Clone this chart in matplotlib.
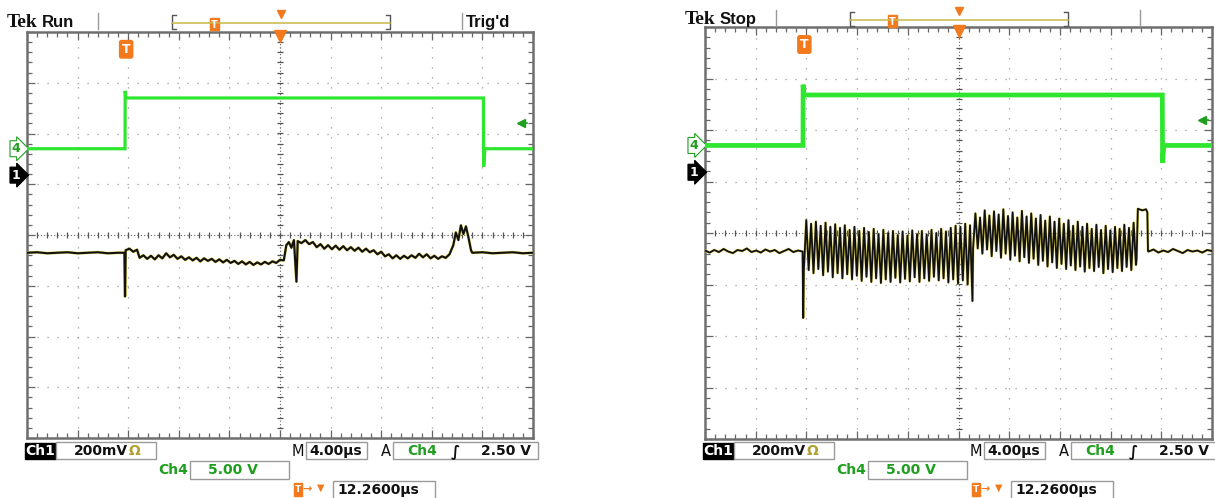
import numpy as np
import matplotlib
matplotlib.use("Agg")
import matplotlib.pyplot as plt
from matplotlib.patches import Rectangle
from matplotlib.transforms import blended_transform_factory

# scope settings shared by both captures
time_per_div = 4.0          # µs/div, 10 divisions
ch4_volts_per_div = 5.0
ch4_offset_div = 1.70       # Ch4 ground marker
ch1_offset_div = 1.18       # Ch1 ground marker
trig_level = 2.50           # V on Ch4
trig_time = 7.74            # µs from left edge of screen
readout_ch1 = "200mV"
readout_time = "4.00µs"
readout_ch4 = "5.00 V"
readout_trig = "2.50 V"
readout_delay = "12.2600µs"

# Ch4 gate pulse, (µs, V)
ch4_run_t = [0.0, 7.75, 7.76, 7.82, 36.08, 36.10, 36.20, 40.0]
ch4_run_v = [0.0, 0.0, 5.7, 5.0, 5.0, -1.8, 0.0, 0.0]
ch4_stop_t = [0.0, 7.73, 7.74, 7.80, 36.08, 36.10, 36.20, 40.0]
ch4_stop_v = [0.0, 0.0, 5.9, 4.9, 4.9, -1.7, 0.0, 0.0]

# Ch1 "Run" capture, (µs, screen divisions)
ch1_run = [
    (0.0, -0.35), (0.8, -0.34), (1.6, -0.36), (2.4, -0.35), (3.2, -0.34), (4.0, -0.36),
    (4.8, -0.35), (5.6, -0.34), (6.4, -0.36), (7.2, -0.35), (7.70, -0.35), (7.75, -1.21),
    (7.80, -0.30), (8.1, -0.27), (8.4, -0.33), (8.7, -0.29), (8.9, -0.45), (9.2, -0.40),
    (9.5, -0.47), (9.8, -0.41), (10.1, -0.48), (10.4, -0.40), (10.7, -0.46), (11.0, -0.36),
    (11.3, -0.44), (11.6, -0.39), (11.9, -0.47), (12.2, -0.42), (12.5, -0.49), (12.8, -0.44),
    (13.1, -0.50), (13.4, -0.45), (13.7, -0.52), (14.0, -0.46), (14.3, -0.51), (14.6, -0.47),
    (14.9, -0.53), (15.2, -0.48), (15.5, -0.54), (15.8, -0.49), (16.1, -0.55), (16.4, -0.51),
    (16.7, -0.57), (17.0, -0.52), (17.3, -0.58), (17.6, -0.53), (17.9, -0.59), (18.2, -0.54),
    (18.5, -0.58), (18.8, -0.53), (19.1, -0.57), (19.4, -0.52), (19.7, -0.55), (20.0, -0.49),
    (20.3, -0.50), (20.5, -0.20), (20.7, -0.14), (20.9, -0.25), (21.1, -0.10), (21.3, -0.92),
    (21.4, -0.12), (21.7, -0.16), (22.0, -0.10), (22.3, -0.18), (22.6, -0.14), (22.9, -0.24),
    (23.2, -0.18), (23.5, -0.27), (23.8, -0.20), (24.1, -0.28), (24.4, -0.21), (24.7, -0.29),
    (25.0, -0.22), (25.3, -0.30), (25.6, -0.24), (25.9, -0.31), (26.2, -0.25), (26.5, -0.33),
    (26.8, -0.27), (27.1, -0.34), (27.4, -0.30), (27.7, -0.38), (28.0, -0.33), (28.3, -0.42),
    (28.6, -0.38), (28.9, -0.46), (29.2, -0.40), (29.5, -0.47), (29.8, -0.41), (30.1, -0.46),
    (30.4, -0.40), (30.7, -0.45), (31.0, -0.37), (31.3, -0.44), (31.6, -0.38), (31.9, -0.46),
    (32.2, -0.41), (32.5, -0.47), (32.8, -0.42), (33.1, -0.45), (33.4, -0.38), (33.7, -0.20),
    (33.9, 0.05), (34.1, -0.10), (34.3, 0.19), (34.5, 0.02), (34.7, 0.17), (34.9, -0.05),
    (35.1, -0.30), (35.2, -0.35), (36.0, -0.34), (36.8, -0.36), (37.6, -0.35), (38.4, -0.34),
    (39.2, -0.36), (40.0, -0.35),
]

# Ch1 "Stop" capture: noisy baseline, two bursts of ringing, end plateau
ch1_stop_pre = [-0.34, -0.38, -0.33, -0.37, -0.31, -0.36, -0.39, -0.33, -0.35, -0.30, -0.37,
                -0.34, -0.38, -0.32, -0.36, -0.33, -0.39, -0.35, -0.31, -0.37, -0.34, -0.36]
ch1_stop_spike = -1.65
burst1_peaks = [0.25, 0.18, 0.22, 0.14, 0.20, 0.12, 0.17, 0.10, 0.15, 0.06, 0.12, 0.04, 0.10,
                0.02, 0.08, -0.02, 0.06, 0.00, 0.04, -0.04, 0.03, -0.05, 0.05, -0.02, 0.04,
                -0.03, 0.06, 0.00, 0.08, 0.03, 0.10, 0.14, 0.12, 0.18, 0.15]
burst1_troughs = [-0.72, -0.78, -0.70, -0.82, -0.75, -0.86, -0.78, -0.88, -0.80, -0.90, -0.83,
                  -0.93, -0.85, -0.95, -0.88, -0.97, -0.90, -0.95, -0.87, -0.96, -0.89, -0.94,
                  -0.86, -0.95, -0.88, -0.93, -0.85, -0.92, -0.88, -0.96, -0.90, -0.98, -0.92,
                  -1.00, -1.32]
burst2_peaks = [0.38, 0.30, 0.44, 0.34, 0.42, 0.36, 0.46, 0.33, 0.40, 0.30, 0.43, 0.32, 0.38,
                0.28, 0.35, 0.24, 0.32, 0.22, 0.28, 0.18, 0.25, 0.14, 0.22, 0.12, 0.18, 0.08,
                0.16, 0.06, 0.14, 0.05, 0.12, 0.08, 0.16, 0.10, 0.20]
burst2_troughs = [-0.30, -0.40, -0.32, -0.45, -0.35, -0.48, -0.40, -0.52, -0.44, -0.55, -0.47,
                  -0.58, -0.50, -0.62, -0.54, -0.65, -0.57, -0.68, -0.60, -0.70, -0.63, -0.72,
                  -0.65, -0.75, -0.68, -0.74, -0.66, -0.78, -0.70, -0.76, -0.68, -0.74, -0.66,
                  -0.72, -0.62]
burst1_span = (7.80, 21.10)
burst2_span = (21.15, 34.00)
ch1_stop_plateau = [(34.05, -0.50), (34.15, 0.47), (34.5, 0.44), (34.8, 0.46), (34.9, 0.40),
                    (34.95, -0.35)]
ch1_stop_post = [-0.36, -0.32, -0.38, -0.34, -0.37, -0.31, -0.35, -0.39, -0.33, -0.36, -0.34,
                 -0.38, -0.33, -0.35]

GREEN = "#2fe62f"
GREEN_TXT = "#1f9e1f"
ORANGE = "#f27a1c"
YELLOW = "#ded25a"
GRID = "#9a9a9a"


def burst(span, peaks, troughs):
    t0, t1 = span
    period = (t1 - t0) / len(peaks)
    tt, vv = [t0], [troughs[0]]
    for i, (pk, tr) in enumerate(zip(peaks, troughs)):
        tt += [t0 + (i + 0.5) * period, t0 + (i + 1) * period]
        vv += [pk, tr]
    return tt, vv


def stop_trace():
    t_pre = list(np.linspace(0.0, 7.70, len(ch1_stop_pre)))
    t = t_pre + [7.75]
    v = list(ch1_stop_pre) + [ch1_stop_spike]
    for span, pk, tr in [(burst1_span, burst1_peaks, burst1_troughs),
                         (burst2_span, burst2_peaks, burst2_troughs)]:
        bt, bv = burst(span, pk, tr)
        t += bt
        v += bv
    t += [p[0] for p in ch1_stop_plateau]
    v += [p[1] for p in ch1_stop_plateau]
    t += list(np.linspace(35.0, 40.0, len(ch1_stop_post)))
    v += list(ch1_stop_post)
    return np.array(t), np.array(v)


def draw_screen(ax, ch1_t, ch1_v, ch4_t, ch4_v, ch1_lw, ch4_lw, arrow_t):
    ax.set_xlim(0, 10 * time_per_div)
    ax.set_ylim(-4, 4)
    for xv in np.arange(4, 40, 4):
        ax.axvline(xv, color=GRID, lw=0.9, ls=(0, (1, 7)), zorder=1)
    for yv in range(-3, 4):
        ax.axhline(yv, color=GRID, lw=0.9, ls=(0, (1, 7)), zorder=1)
    ax.axvline(20, color="#666666", lw=0.8, ls=(0, (1, 2)), zorder=1)
    ax.axhline(0, color="#666666", lw=0.8, ls=(0, (1, 2)), zorder=1)
    ty = np.arange(-4, 4.01, 0.2)
    ax.plot(np.full(ty.size, 20.0), ty, ls="none", marker="_", ms=5, mew=0.9,
            color="#555555", zorder=1)
    tx = np.arange(0, 40.01, 0.8)
    ax.plot(tx, np.zeros(tx.size), ls="none", marker="|", ms=5, mew=0.9,
            color="#555555", zorder=1)

    ax.set_xticks(np.arange(0, 40.1, 4))
    ax.set_xticks(np.arange(0, 40.1, 0.8), minor=True)
    ax.set_yticks(np.arange(-4, 4.1, 1))
    ax.set_yticks(np.arange(-4, 4.01, 0.2), minor=True)
    ax.tick_params(which="both", direction="in", top=True, right=True,
                   labelbottom=False, labelleft=False, color="#666666", width=0.9)
    ax.tick_params(which="major", length=6)
    ax.tick_params(which="minor", length=3.5)
    for s in ax.spines.values():
        s.set_color("#6e6e6e")
        s.set_linewidth(1.8)

    # traces
    ch4_div = ch4_offset_div + np.array(ch4_v) / ch4_volts_per_div
    ax.plot(ch4_t, ch4_div, color=GREEN, lw=ch4_lw, zorder=4, solid_joinstyle="miter")
    ax.plot(ch1_t, ch1_v, color=YELLOW, lw=ch1_lw + 0.6, zorder=3)
    ax.plot(ch1_t, ch1_v, color="#111111", lw=ch1_lw, zorder=3.5)

    # markers
    blend = blended_transform_factory(ax.transAxes, ax.transData)
    ax.text(-0.022, ch4_offset_div, "4", transform=blend, ha="center", va="center",
            fontsize=9, fontweight="bold", color=GREEN_TXT, clip_on=False,
            bbox=dict(boxstyle="rarrow,pad=0.12", fc="white", ec=GREEN_TXT, lw=0.8))
    ax.text(-0.022, ch1_offset_div, "1", transform=blend, ha="center", va="center",
            fontsize=9, fontweight="bold", color="white", clip_on=False,
            bbox=dict(boxstyle="rarrow,pad=0.12", fc="black", ec="black", lw=0.8))
    lvl = ch4_offset_div + trig_level / ch4_volts_per_div
    ax.plot([arrow_t, arrow_t + 0.45], [lvl, lvl], color=GREEN_TXT, lw=1.2, zorder=5)
    ax.plot([arrow_t], [lvl], marker="<", ms=6, color=GREEN_TXT, zorder=5)
    ax.text(trig_time + 0.1, 3.66, "T", ha="center", va="center", fontsize=9,
            fontweight="bold", color="white", zorder=6,
            bbox=dict(boxstyle="round,pad=0.18,rounding_size=0.15", fc=ORANGE, ec=ORANGE))
    ax.plot([20], [3.92], marker="v", ms=8, color=ORANGE, clip_on=False, zorder=6)


def draw_bars(ov, dx, dy, status, trigd):
    ov.text(7 + dx, 27 + dy, "Tek", fontfamily="Liberation Serif", fontweight="bold",
            fontsize=14, va="baseline", color="#111111")
    ov.text(42 + dx, 27 + dy, status, fontfamily="Liberation Sans", fontweight="bold",
            fontsize=12, va="baseline", color="#111111")
    for sx in (98, 462):
        ov.plot([sx + dx, sx + dx], [13 + dy, 29 + dy], color="#999999", lw=1)
    ov.plot([176 + dx, 172 + dx, 172 + dx, 176 + dx],
            [14.5 + dy, 14.5 + dy, 29 + dy, 29 + dy], color="#555555", lw=1)
    ov.plot([386 + dx, 390 + dx, 390 + dx, 386 + dx],
            [14.5 + dy, 14.5 + dy, 29 + dy, 29 + dy], color="#555555", lw=1)
    ov.plot([172 + dx, 390 + dx], [22.5 + dy, 22.5 + dy], color="#c8b84a", lw=1.1)
    ov.add_patch(Rectangle((210 + dx, 18 + dy), 9, 12, fc=ORANGE, ec=ORANGE))
    ov.text(214.5 + dx, 24.5 + dy, "T", color="white", fontsize=7, fontweight="bold",
            ha="center", va="center")
    ov.plot([281 + dx], [14 + dy], marker="v", ms=6, color=ORANGE)
    if trigd:
        ov.text(466 + dx, 27 + dy, "Trig'd", fontfamily="Liberation Sans", fontweight="bold",
                fontsize=12, va="baseline", color="#111111")

    # readouts along the bottom
    fb = dict(fontfamily="DejaVu Sans", fontweight="bold", fontsize=10, va="center")
    box = dict(fc="white", ec="#9a9a9a", lw=1)
    ov.add_patch(Rectangle((25 + dx, 443), 31, 16, fc="black", ec="black"))
    ov.text(40.5 + dx, 451, "Ch1", color="white", ha="center", **fb)
    ov.add_patch(Rectangle((56 + dx, 442), 100, 17, **box))
    ov.text(74 + dx, 451, readout_ch1, color="#111111", **fb)
    ov.text(129 + dx, 451, "Ω", color="#b0a030", **fb)
    ov.text(292 + dx, 451, "M", color="#111111", fontsize=10.5, va="center")
    ov.add_patch(Rectangle((306 + dx, 442), 61, 17, **box))
    ov.text(309 + dx, 451, readout_time, color="#111111", **fb)
    ov.text(381 + dx, 451, "A", color="#111111", fontsize=10.5, va="center")
    ov.add_patch(Rectangle((393 + dx, 442), 145, 17, **box))
    ov.text(407 + dx, 451, "Ch4", color=GREEN_TXT, **fb)
    ov.text(451 + dx, 451, "∫", color="#111111", fontstyle="italic",
            fontfamily="DejaVu Sans", fontweight="bold", fontsize=11, va="center")
    ov.text(481 + dx, 451, readout_trig, color="#111111", **fb)

    ov.text(158 + dx, 470, "Ch4", color=GREEN_TXT, **fb)
    ov.add_patch(Rectangle((190 + dx, 461), 99, 18, **box))
    ov.text(208 + dx, 470, readout_ch4, color=GREEN_TXT, **fb)

    ov.add_patch(Rectangle((294 + dx, 483), 8, 13, fc=ORANGE, ec=ORANGE))
    ov.text(298 + dx, 489.5, "T", color="white", fontsize=6.5, fontweight="bold",
            ha="center", va="center")
    ov.text(302 + dx, 489, "→", color=ORANGE, fontsize=8, va="center", fontweight="bold")
    ov.text(317 + dx, 488, "▼", color=ORANGE, fontsize=7, va="center")
    ov.add_patch(Rectangle((333 + dx, 481), 102, 19, **box))
    ov.text(337 + dx, 490, readout_delay, color="#111111", **fb)


fig = plt.figure(figsize=(12.15, 4.98), dpi=100)
W, H = 1215.0, 498.0
ax_run = fig.add_axes([27 / W, (H - 438) / H, 506 / W, 406 / H])
ax_stop = fig.add_axes([705 / W, (H - 439) / H, 507 / W, 412 / H])

run_t = np.array([p[0] for p in ch1_run])
run_v = np.array([p[1] for p in ch1_run])
draw_screen(ax_run, run_t, run_v, ch4_run_t, ch4_run_v, 1.5, 2.3, 39.05)
stop_t, stop_v = stop_trace()
draw_screen(ax_stop, stop_t, stop_v, ch4_stop_t, ch4_stop_v, 1.3, 3.4, 39.2)

ov = fig.add_axes([0, 0, 1, 1], zorder=10)
ov.set_xlim(0, W)
ov.set_ylim(H, 0)
ov.axis("off")
ov.patch.set_alpha(0)
draw_bars(ov, 0, 0, "Run", True)
draw_bars(ov, 678, -3, "Stop", False)

fig.savefig("out.png", dpi=100)
